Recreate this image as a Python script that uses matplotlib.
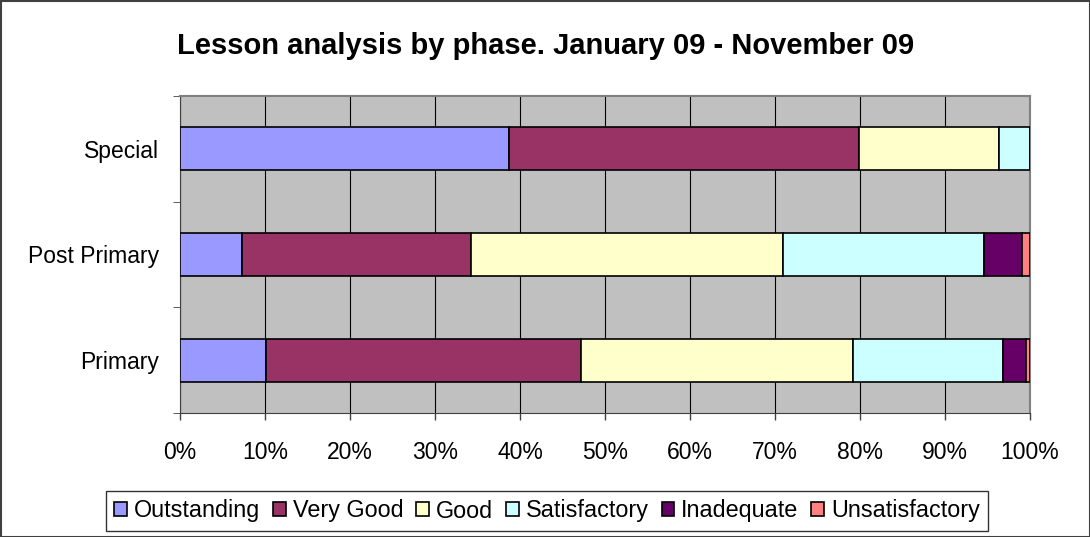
import numpy as np
import matplotlib.pyplot as plt
from matplotlib.patches import Rectangle

plt.rcParams['font.family'] = ['Liberation Sans', 'DejaVu Sans']

phases = ['Primary', 'Post Primary', 'Special']
grades = ['Outstanding', 'Very Good', 'Good', 'Satisfactory', 'Inadequate', 'Unsatisfactory']
colors = ['#9999FF', '#993366', '#FFFFCC', '#CCFFFF', '#660066', '#FF8080']

# percentages per grade, in order Primary, Post Primary, Special
outstanding = [10.1, 7.3, 38.7]
very_good = [37.1, 26.9, 41.2]
good = [32.0, 36.7, 16.5]
satisfactory = [17.6, 23.7, 3.6]
inadequate = [2.7, 4.5, 0.0]
unsatisfactory = [0.5, 0.9, 0.0]

series = [outstanding, very_good, good, satisfactory, inadequate, unsatisfactory]

fig = plt.figure(figsize=(10.9, 5.37), dpi=100)
ax = fig.add_axes([180 / 1090, 1 - 413 / 537, 850 / 1090, 317 / 537])
ax.set_facecolor('#C0C0C0')

y = np.arange(len(phases))
left = np.zeros(len(phases))
for name, vals, c in zip(grades, series, colors):
    vals = np.array(vals)
    ax.barh(y, vals, left=left, height=0.41, color=c, edgecolor='black',
            linewidth=1.2, label=name, zorder=3)
    left += vals

ax.set_xlim(0, 100)
ax.set_ylim(-0.5, 2.5)
ax.set_xticks(np.arange(0, 101, 10))
ax.set_xticklabels(['%d%%' % v for v in range(0, 101, 10)], fontsize=16.5)
ax.tick_params(axis='x', length=5, width=1, color='#404040', pad=15)
ax.set_yticks(y)
ax.set_yticklabels(phases, fontsize=16.5, va='center_baseline')
ax.tick_params(axis='y', length=0, pad=15)
ax.set_yticks([-0.5, 0.5, 1.5, 2.5], minor=True)
ax.tick_params(axis='y', which='minor', length=5, color='#404040')
ax.xaxis.grid(True, color='black', linewidth=0.8, zorder=1)
ax.set_axisbelow(True)
for s in ['top', 'right']:
    ax.spines[s].set_color('#808080')
    ax.spines[s].set_linewidth(1.5)
ax.spines['left'].set_color('#404040')
ax.spines['bottom'].set_color('#404040')

fig.text(546 / 1090, 1 - 46 / 537, 'Lesson analysis by phase. January 09 - November 09',
         ha='center', va='center', fontsize=21, fontweight='bold')

leg = fig.legend(loc='center', bbox_to_anchor=(547 / 1090, 1 - 511 / 537), ncol=6,
                 fontsize=16.8, frameon=True, fancybox=False, edgecolor='black',
                 handlelength=0.55, handleheight=0.55, handletextpad=0.3,
                 columnspacing=0.55, borderpad=0.35, borderaxespad=0)
leg.get_frame().set_linewidth(1.0)

fig.patches.append(Rectangle((0.5 / 1090, 0.5 / 537), 1 - 1 / 1090, 1 - 1 / 537,
                             transform=fig.transFigure, fill=False,
                             edgecolor='#404040', linewidth=1.5))

fig.savefig('out.png', dpi=100)
